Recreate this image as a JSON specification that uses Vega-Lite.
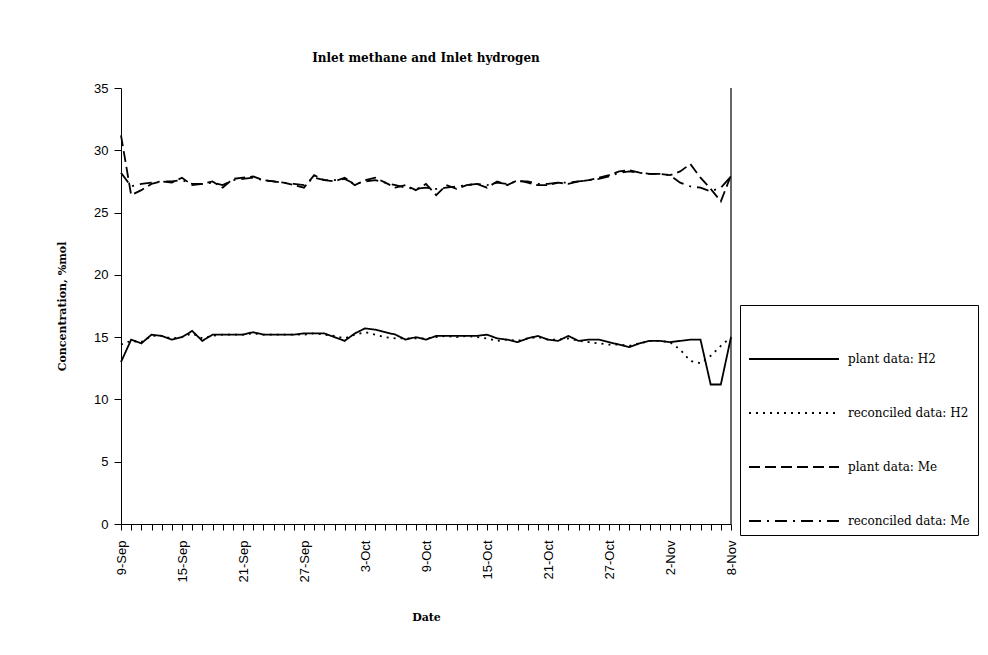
{
  "$schema": "https://vega.github.io/schema/vega-lite/v6.json",
  "autosize": {"type": "none"},
  "padding": {"left": 121, "top": 88, "right": 257, "bottom": 131},
  "width": 610,
  "height": 436,
  "background": "white",
  "title": {
    "text": "Inlet methane and Inlet hydrogen",
    "font": "DejaVu Serif",
    "fontSize": 12,
    "fontWeight": "bold",
    "color": "black",
    "anchor": "middle",
    "offset": 17
  },
  "config": {
    "view": {"stroke": null},
    "axis": {"domainColor": "black", "tickColor": "black", "labelColor": "black", "titleColor": "black", "grid": false}
  },
  "data": {
    "values": [
      {"d": "9-Sep", "plant data: H2": 13.0, "reconciled data: H2": 14.4, "plant data: Me": 31.2, "reconciled data: Me": 28.2},
      {"d": "10-Sep", "plant data: H2": 14.8, "reconciled data: H2": 14.7, "plant data: Me": 26.4, "reconciled data: Me": 27.1},
      {"d": "11-Sep", "plant data: H2": 14.5, "reconciled data: H2": 14.6, "plant data: Me": 26.8, "reconciled data: Me": 27.3},
      {"d": "12-Sep", "plant data: H2": 15.2, "reconciled data: H2": 15.1, "plant data: Me": 27.3, "reconciled data: Me": 27.4},
      {"d": "13-Sep", "plant data: H2": 15.1, "reconciled data: H2": 15.1, "plant data: Me": 27.5, "reconciled data: Me": 27.5},
      {"d": "14-Sep", "plant data: H2": 14.8, "reconciled data: H2": 14.9, "plant data: Me": 27.4, "reconciled data: Me": 27.5},
      {"d": "15-Sep", "plant data: H2": 15.0, "reconciled data: H2": 15.0, "plant data: Me": 27.8, "reconciled data: Me": 27.6},
      {"d": "16-Sep", "plant data: H2": 15.5, "reconciled data: H2": 15.3, "plant data: Me": 27.2, "reconciled data: Me": 27.3},
      {"d": "17-Sep", "plant data: H2": 14.7, "reconciled data: H2": 14.9, "plant data: Me": 27.3, "reconciled data: Me": 27.3},
      {"d": "18-Sep", "plant data: H2": 15.2, "reconciled data: H2": 15.1, "plant data: Me": 27.5, "reconciled data: Me": 27.4},
      {"d": "19-Sep", "plant data: H2": 15.2, "reconciled data: H2": 15.2, "plant data: Me": 27.0, "reconciled data: Me": 27.2},
      {"d": "20-Sep", "plant data: H2": 15.2, "reconciled data: H2": 15.2, "plant data: Me": 27.7, "reconciled data: Me": 27.6},
      {"d": "21-Sep", "plant data: H2": 15.2, "reconciled data: H2": 15.2, "plant data: Me": 27.8, "reconciled data: Me": 27.7},
      {"d": "22-Sep", "plant data: H2": 15.4, "reconciled data: H2": 15.3, "plant data: Me": 27.9, "reconciled data: Me": 27.8},
      {"d": "23-Sep", "plant data: H2": 15.2, "reconciled data: H2": 15.2, "plant data: Me": 27.6, "reconciled data: Me": 27.6},
      {"d": "24-Sep", "plant data: H2": 15.2, "reconciled data: H2": 15.2, "plant data: Me": 27.5, "reconciled data: Me": 27.5},
      {"d": "25-Sep", "plant data: H2": 15.2, "reconciled data: H2": 15.2, "plant data: Me": 27.4, "reconciled data: Me": 27.4},
      {"d": "26-Sep", "plant data: H2": 15.2, "reconciled data: H2": 15.2, "plant data: Me": 27.2, "reconciled data: Me": 27.3},
      {"d": "27-Sep", "plant data: H2": 15.3, "reconciled data: H2": 15.2, "plant data: Me": 27.0, "reconciled data: Me": 27.2},
      {"d": "28-Sep", "plant data: H2": 15.3, "reconciled data: H2": 15.3, "plant data: Me": 28.0, "reconciled data: Me": 27.8},
      {"d": "29-Sep", "plant data: H2": 15.3, "reconciled data: H2": 15.2, "plant data: Me": 27.6, "reconciled data: Me": 27.6},
      {"d": "30-Sep", "plant data: H2": 15.0, "reconciled data: H2": 15.1, "plant data: Me": 27.5, "reconciled data: Me": 27.6},
      {"d": "1-Oct", "plant data: H2": 14.7, "reconciled data: H2": 14.9, "plant data: Me": 27.8, "reconciled data: Me": 27.7},
      {"d": "2-Oct", "plant data: H2": 15.3, "reconciled data: H2": 15.2, "plant data: Me": 27.2, "reconciled data: Me": 27.3},
      {"d": "3-Oct", "plant data: H2": 15.7, "reconciled data: H2": 15.4, "plant data: Me": 27.6, "reconciled data: Me": 27.5},
      {"d": "4-Oct", "plant data: H2": 15.6, "reconciled data: H2": 15.2, "plant data: Me": 27.8, "reconciled data: Me": 27.6},
      {"d": "5-Oct", "plant data: H2": 15.4, "reconciled data: H2": 15.0, "plant data: Me": 27.4, "reconciled data: Me": 27.4},
      {"d": "6-Oct", "plant data: H2": 15.2, "reconciled data: H2": 14.9, "plant data: Me": 27.0, "reconciled data: Me": 27.2},
      {"d": "7-Oct", "plant data: H2": 14.8, "reconciled data: H2": 14.9, "plant data: Me": 27.2, "reconciled data: Me": 27.0},
      {"d": "8-Oct", "plant data: H2": 15.0, "reconciled data: H2": 14.9, "plant data: Me": 26.8, "reconciled data: Me": 26.9},
      {"d": "9-Oct", "plant data: H2": 14.8, "reconciled data: H2": 14.9, "plant data: Me": 27.3, "reconciled data: Me": 27.0},
      {"d": "10-Oct", "plant data: H2": 15.1, "reconciled data: H2": 15.0, "plant data: Me": 26.4, "reconciled data: Me": 26.9},
      {"d": "11-Oct", "plant data: H2": 15.1, "reconciled data: H2": 15.1, "plant data: Me": 27.2, "reconciled data: Me": 27.0},
      {"d": "12-Oct", "plant data: H2": 15.1, "reconciled data: H2": 15.0, "plant data: Me": 26.9, "reconciled data: Me": 27.1},
      {"d": "13-Oct", "plant data: H2": 15.1, "reconciled data: H2": 15.1, "plant data: Me": 27.2, "reconciled data: Me": 27.2},
      {"d": "14-Oct", "plant data: H2": 15.1, "reconciled data: H2": 15.0, "plant data: Me": 27.3, "reconciled data: Me": 27.3},
      {"d": "15-Oct", "plant data: H2": 15.2, "reconciled data: H2": 14.9, "plant data: Me": 27.0, "reconciled data: Me": 27.2},
      {"d": "16-Oct", "plant data: H2": 14.9, "reconciled data: H2": 14.7, "plant data: Me": 27.5, "reconciled data: Me": 27.4},
      {"d": "17-Oct", "plant data: H2": 14.8, "reconciled data: H2": 14.8, "plant data: Me": 27.2, "reconciled data: Me": 27.3},
      {"d": "18-Oct", "plant data: H2": 14.6, "reconciled data: H2": 14.7, "plant data: Me": 27.6, "reconciled data: Me": 27.5},
      {"d": "19-Oct", "plant data: H2": 14.9, "reconciled data: H2": 14.9, "plant data: Me": 27.4, "reconciled data: Me": 27.5},
      {"d": "20-Oct", "plant data: H2": 15.1, "reconciled data: H2": 15.0, "plant data: Me": 27.2, "reconciled data: Me": 27.3},
      {"d": "21-Oct", "plant data: H2": 14.8, "reconciled data: H2": 14.8, "plant data: Me": 27.2, "reconciled data: Me": 27.3},
      {"d": "22-Oct", "plant data: H2": 14.7, "reconciled data: H2": 14.8, "plant data: Me": 27.4, "reconciled data: Me": 27.4},
      {"d": "23-Oct", "plant data: H2": 15.1, "reconciled data: H2": 14.9, "plant data: Me": 27.3, "reconciled data: Me": 27.4},
      {"d": "24-Oct", "plant data: H2": 14.7, "reconciled data: H2": 14.7, "plant data: Me": 27.5, "reconciled data: Me": 27.5},
      {"d": "25-Oct", "plant data: H2": 14.8, "reconciled data: H2": 14.6, "plant data: Me": 27.6, "reconciled data: Me": 27.6},
      {"d": "26-Oct", "plant data: H2": 14.8, "reconciled data: H2": 14.5, "plant data: Me": 27.8, "reconciled data: Me": 27.7},
      {"d": "27-Oct", "plant data: H2": 14.6, "reconciled data: H2": 14.4, "plant data: Me": 28.0, "reconciled data: Me": 27.9},
      {"d": "28-Oct", "plant data: H2": 14.4, "reconciled data: H2": 14.4, "plant data: Me": 28.3, "reconciled data: Me": 28.2},
      {"d": "29-Oct", "plant data: H2": 14.2, "reconciled data: H2": 14.3, "plant data: Me": 28.4, "reconciled data: Me": 28.3},
      {"d": "30-Oct", "plant data: H2": 14.5, "reconciled data: H2": 14.5, "plant data: Me": 28.2, "reconciled data: Me": 28.2},
      {"d": "31-Oct", "plant data: H2": 14.7, "reconciled data: H2": 14.7, "plant data: Me": 28.1, "reconciled data: Me": 28.1},
      {"d": "1-Nov", "plant data: H2": 14.7, "reconciled data: H2": 14.7, "plant data: Me": 28.1, "reconciled data: Me": 28.1},
      {"d": "2-Nov", "plant data: H2": 14.6, "reconciled data: H2": 14.6, "plant data: Me": 28.0, "reconciled data: Me": 28.0},
      {"d": "3-Nov", "plant data: H2": 14.7, "reconciled data: H2": 14.0, "plant data: Me": 28.3, "reconciled data: Me": 27.4},
      {"d": "4-Nov", "plant data: H2": 14.8, "reconciled data: H2": 13.1, "plant data: Me": 28.9, "reconciled data: Me": 27.1},
      {"d": "5-Nov", "plant data: H2": 14.8, "reconciled data: H2": 12.9, "plant data: Me": 27.8, "reconciled data: Me": 27.0},
      {"d": "6-Nov", "plant data: H2": 11.2, "reconciled data: H2": 13.5, "plant data: Me": 26.9, "reconciled data: Me": 26.7},
      {"d": "7-Nov", "plant data: H2": 11.2, "reconciled data: H2": 14.3, "plant data: Me": 25.9, "reconciled data: Me": 27.0},
      {"d": "8-Nov", "plant data: H2": 15.0, "reconciled data: H2": 15.0, "plant data: Me": 28.0, "reconciled data: Me": 27.9}
    ]
  },
  "layer": [
    {
      "transform": [
        {"fold": ["plant data: H2", "reconciled data: H2", "plant data: Me", "reconciled data: Me"], "as": ["series", "value"]}
      ],
      "mark": {"type": "line", "color": "black", "strokeWidth": 1.8},
      "encoding": {
        "x": {
          "field": "d",
          "type": "ordinal",
          "scale": {"type": "point", "padding": 0, "domain": ["9-Sep","10-Sep","11-Sep","12-Sep","13-Sep","14-Sep","15-Sep","16-Sep","17-Sep","18-Sep","19-Sep","20-Sep","21-Sep","22-Sep","23-Sep","24-Sep","25-Sep","26-Sep","27-Sep","28-Sep","29-Sep","30-Sep","1-Oct","2-Oct","3-Oct","4-Oct","5-Oct","6-Oct","7-Oct","8-Oct","9-Oct","10-Oct","11-Oct","12-Oct","13-Oct","14-Oct","15-Oct","16-Oct","17-Oct","18-Oct","19-Oct","20-Oct","21-Oct","22-Oct","23-Oct","24-Oct","25-Oct","26-Oct","27-Oct","28-Oct","29-Oct","30-Oct","31-Oct","1-Nov","2-Nov","3-Nov","4-Nov","5-Nov","6-Nov","7-Nov","8-Nov"]},
          "axis": {
            "title": "Date",
            "titleFont": "DejaVu Serif",
            "titleFontSize": 11,
            "titleFontWeight": "bold",
            "titlePadding": 30,
            "labelFont": "Liberation Sans",
            "labelFontSize": 13,
            "labelAngle": -90,
            "labelPadding": 10,
            "labelOverlap": false,
            "tickSize": 6,
            "labelExpr": "indexof(['9-Sep','15-Sep','21-Sep','27-Sep','3-Oct','9-Oct','15-Oct','21-Oct','27-Oct','2-Nov','8-Nov'], datum.value) >= 0 ? datum.value : ''"
          }
        },
        "y": {
          "field": "value",
          "type": "quantitative",
          "scale": {"domain": [0, 35], "nice": false},
          "axis": {
            "title": "Concentration, %mol",
            "titleFont": "DejaVu Serif",
            "titleFontSize": 11,
            "titleFontWeight": "bold",
            "titlePadding": 26,
            "labelFont": "Liberation Sans",
            "labelFontSize": 13,
            "labelPadding": 6,
            "values": [0, 5, 10, 15, 20, 25, 30, 35],
            "tickSize": 7
          }
        },
        "detail": {"field": "series"},
        "strokeDash": {
          "field": "series",
          "type": "nominal",
          "scale": {
            "domain": ["plant data: H2", "reconciled data: H2", "plant data: Me", "reconciled data: Me"],
            "range": [[1, 0], [2, 5], [11, 5], [12, 6, 2, 6]]
          },
          "legend": {
            "title": null,
            "orient": "none",
            "legendX": 619,
            "legendY": 217,
            "strokeColor": "black",
            "fillColor": "white",
            "padding": 8,
            "symbolType": "stroke",
            "symbolSize": 8100,
            "symbolStrokeWidth": 2,
            "symbolStrokeColor": "black",
            "rowPadding": 2,
            "labelFont": "DejaVu Serif",
            "labelFontSize": 12,
            "labelColor": "black",
            "labelOffset": 8,
            "labelLimit": 300
          }
        }
      }
    },
    {
      "data": {"values": [{"d": "8-Nov"}]},
      "mark": {"type": "rule", "color": "black", "strokeWidth": 1.2},
      "encoding": {"x": {"field": "d", "type": "ordinal"}}
    }
  ]
}
